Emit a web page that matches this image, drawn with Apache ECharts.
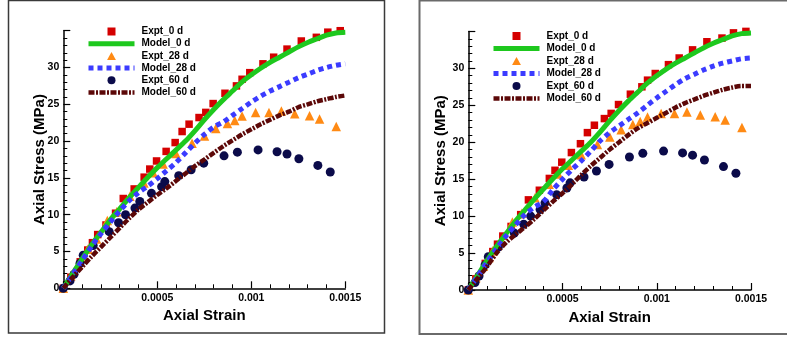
<!DOCTYPE html>
<html>
<head>
<meta charset="utf-8">
<script src="https://cdn.jsdelivr.net/npm/echarts@6/dist/echarts.min.js"></script>
<style>
html,body{margin:0;padding:0;background:#fff;}
#chart{width:787px;height:338px;}
</style>
</head>
<body>
<div id="chart"></div>
<script>
// ---- Data ----
var seriesNames = ['Expt_0 d', 'Model_0 d', 'Expt_28 d', 'Model_28 d', 'Expt_60 d', 'Model_60 d'];
var xTickLabels = ['', '0.0005', '0.001', '0.0015'];
var yTickLabels = ['0', '5', '10', '15', '20', '25', '30', ''];

var expt0Strain = [0, 0.00004, 0.00009, 0.00013, 0.000155, 0.000183, 0.000227, 0.000278, 0.000319, 0.000377, 0.00043, 0.00046, 0.000496, 0.000547, 0.000595, 0.000632, 0.000669, 0.000722, 0.000758, 0.000797, 0.00086, 0.000921, 0.000951, 0.000992, 0.001062, 0.001119, 0.00119, 0.001266, 0.001346, 0.001407, 0.001473];
var expt0Stress = [0, 1.5, 3.6, 5.2, 6.2, 7.3, 8.6, 10.2, 12.2, 13.5, 15.1, 16.2, 17.3, 18.6, 19.8, 21.3, 22.3, 23.2, 23.9, 25.1, 26.5, 27.5, 28.4, 29.3, 30.5, 31.4, 32.5, 33.6, 34.1, 34.8, 35.0];

var expt28Strain = [0, 0.00004, 0.00008, 0.00011, 0.00013, 0.000177, 0.000234, 0.000284, 0.000354, 0.000429, 0.000478, 0.000531, 0.000599, 0.000685, 0.000751, 0.000811, 0.000873, 0.000912, 0.000951, 0.001023, 0.001094, 0.00116, 0.001231, 0.00131, 0.001363, 0.001452];
var expt28Stress = [0, 1.7, 3.2, 4.4, 5.3, 6.7, 9.2, 10.4, 12.5, 14.3, 15.7, 16.9, 18.3, 19.7, 20.7, 21.7, 22.4, 22.8, 23.4, 23.9, 23.9, 24.1, 23.7, 23.45, 23.0, 22.0];

var expt60Strain = [0, 0.0000356, 0.000057, 0.000089, 0.000106, 0.000159, 0.000244, 0.000294, 0.000331, 0.000381, 0.000407, 0.000469, 0.000523, 0.00054, 0.000614, 0.00068, 0.000747, 0.000855, 0.000926, 0.001036, 0.001137, 0.00119, 0.001253, 0.001354, 0.00142];
var expt60Stress = [0, 1.0, 1.9, 3.4, 4.5, 5.8, 7.7, 8.9, 10.0, 10.9, 11.8, 12.9, 13.8, 14.5, 15.3, 16.1, 17.0, 18.0, 18.5, 18.8, 18.55, 18.25, 17.6, 16.7, 15.8];

var modelStrain = [0, 0.00005, 0.0001, 0.00015, 0.0002, 0.00025, 0.0003, 0.00035, 0.0004, 0.00045, 0.0005, 0.00055, 0.0006, 0.00065, 0.0007, 0.00075, 0.0008, 0.00085, 0.0009, 0.00095, 0.001, 0.00105, 0.0011, 0.00115, 0.0012, 0.00125, 0.0013, 0.00135, 0.0014, 0.00145, 0.0015];
var model0Stress = [0, 2.0, 4.0, 5.9, 7.6, 9.3, 10.8, 12.3, 13.7, 15.1, 16.4, 17.6, 18.8, 20.0, 21.4, 22.9, 24.3, 25.6, 26.8, 28.0, 29.0, 29.9, 30.7, 31.4, 32.1, 32.8, 33.4, 33.9, 34.4, 34.7, 34.8];
var model28StressLeft = [0, 1.9, 3.8, 5.7, 7.4, 9.0, 10.5, 11.9, 13.0, 13.9, 14.9, 16.0, 17.1, 18.4, 19.7, 20.9, 21.9, 22.6, 23.5, 24.4, 25.3, 26.1, 26.8, 27.4, 28.0, 28.6, 29.1, 29.6, 30.0, 30.3, 30.5];
var model28StressRight = [0, 1.9, 3.8, 5.6, 7.3, 8.8, 10.2, 11.2, 12.0, 13.6, 15.0, 16.3, 17.5, 18.8, 20.2, 21.3, 22.2, 23.1, 24.0, 25.0, 26.0, 26.9, 27.8, 28.6, 29.2, 29.8, 30.3, 30.7, 31.0, 31.3, 31.4];
var model60StressLeft = [0, 1.5, 2.9, 4.3, 5.6, 6.9, 8.2, 9.5, 10.7, 11.7, 12.7, 13.6, 14.6, 15.6, 16.6, 17.5, 18.4, 19.3, 20.1, 20.9, 21.6, 22.3, 22.9, 23.5, 24.0, 24.6, 25.0, 25.4, 25.7, 26.0, 26.2];
var model60StressRight = [0, 1.6, 3.2, 5.0, 6.4, 7.5, 8.5, 9.6, 10.8, 12.0, 13.1, 14.3, 15.6, 16.8, 17.9, 19.0, 20.0, 21.0, 21.9, 22.6, 23.3, 24.0, 24.7, 25.3, 25.8, 26.3, 26.7, 27.1, 27.4, 27.6, 27.6];

function pairs(xs, ys) { return xs.map(function (x, i) { return [x, ys[i]]; }); }

var FONT = 'Liberation Sans, Arial, sans-serif';
var colors = {
  red: '#d40000', green: '#1ec81e', orange: '#ff8a14',
  blue: '#3b3bff', navy: '#0b0b4a', brown: '#5c0808'
};
var legendIcons = ['path://M0,0L10,0L10,10L0,10Z', null, 'path://M5,0L10,9L0,9Z', null, 'circle', null];

function panelSeries(idx, m28, m60) {
  return [
    { name: seriesNames[0], type: 'scatter', xAxisIndex: idx, yAxisIndex: idx, clip: false,
      symbol: 'rect', symbolSize: 7.5, itemStyle: { color: colors.red, opacity: 1 }, data: pairs(expt0Strain, expt0Stress) },
    { name: seriesNames[1], type: 'line', xAxisIndex: idx, yAxisIndex: idx, symbol: 'none', smooth: 0.3,
      lineStyle: { color: colors.green, width: 5 }, itemStyle: { color: colors.green }, data: pairs(modelStrain, model0Stress) },
    { name: seriesNames[2], type: 'scatter', xAxisIndex: idx, yAxisIndex: idx, clip: false,
      symbol: 'triangle', symbolSize: 9.5, itemStyle: { color: colors.orange, opacity: 1 }, data: pairs(expt28Strain, expt28Stress) },
    { name: seriesNames[3], type: 'line', xAxisIndex: idx, yAxisIndex: idx, symbol: 'none', smooth: 0.3,
      lineStyle: { color: colors.blue, width: 5, type: [5, 4] }, itemStyle: { color: colors.blue }, data: pairs(modelStrain, m28) },
    { name: seriesNames[4], type: 'scatter', xAxisIndex: idx, yAxisIndex: idx, clip: false,
      symbol: 'circle', symbolSize: 9, itemStyle: { color: colors.navy, opacity: 1 }, data: pairs(expt60Strain, expt60Stress) },
    { name: seriesNames[5], type: 'line', xAxisIndex: idx, yAxisIndex: idx, symbol: 'none', smooth: 0.3,
      lineStyle: { color: colors.brown, width: 4.5, type: [6, 1.5, 2, 1.5] }, itemStyle: { color: colors.brown }, data: pairs(modelStrain, m60) }
  ];
}

function xAx(gi) {
  return {
    type: 'value', gridIndex: gi, min: 0, max: 0.0015, interval: 0.0005,
    name: 'Axial Strain', nameLocation: 'middle', nameGap: 18,
    nameTextStyle: { fontFamily: FONT, fontWeight: 'bold', fontSize: 15, color: '#000' },
    axisLine: { lineStyle: { color: '#000', width: 1.5 } },
    axisTick: { inside: true, length: 7, lineStyle: { color: '#000', width: 1.2 } },
    minorTick: { show: true, splitNumber: 5, length: 4, lineStyle: { color: '#000', width: 1 } },
    splitLine: { show: false },
    axisLabel: { margin: 4, fontFamily: FONT, fontWeight: 'bold', fontSize: 10.5, color: '#000',
      formatter: function (v) { return xTickLabels[Math.round(v / 0.0005)] || ''; } }
  };
}
function yAx(gi, gap) {
  return {
    type: 'value', gridIndex: gi, min: 0, max: 35, interval: 5,
    name: 'Axial Stress (MPa)', nameLocation: 'middle', nameGap: gap, nameMoveOverlap: false,
    nameTextStyle: { fontFamily: FONT, fontWeight: 'bold', fontSize: 15, color: '#000' },
    axisLine: { show: true, lineStyle: { color: '#000', width: 1.5 } },
    axisTick: { show: true, inside: true, length: 7, lineStyle: { color: '#000', width: 1.2 } },
    minorTick: { show: true, splitNumber: 5, length: 4, lineStyle: { color: '#000', width: 1 } },
    splitLine: { show: false },
    axisLabel: { margin: 4, fontFamily: FONT, fontWeight: 'bold', fontSize: 10.5, color: '#000',
      formatter: function (v) { return yTickLabels[Math.round(v / 5)]; } }
  };
}
function legend(left, top, gap) {
  var items = seriesNames.map(function (n, i) {
    return i % 2 === 1 ? { name: n, itemStyle: { opacity: 0 } } : { name: n, icon: legendIcons[i] };
  });
  return {
    orient: 'vertical', left: left, top: top, itemWidth: 46, itemHeight: 8, itemGap: gap,
    data: items, selectedMode: false, symbolKeepAspect: true,
    lineStyle: { width: 'inherit' },
    textStyle: { fontFamily: FONT, fontWeight: 'bold', fontSize: 10, color: '#000', padding: [0, 0, 0, 2] },
    padding: 0
  };
}

var chart = echarts.init(document.getElementById('chart'), null, { renderer: 'canvas' });
chart.setOption({
  backgroundColor: '#fff',
  animation: false,
  graphic: [
    { type: 'rect', shape: { x: 8.5, y: 0.5, width: 376, height: 332.5 }, style: { fill: 'none', stroke: '#3a3a3a', lineWidth: 1.5 }, silent: true },
    { type: 'rect', shape: { x: 419.5, y: 0.5, width: 420, height: 333.5 }, style: { fill: 'none', stroke: '#6a6a6a', lineWidth: 2 }, silent: true }
  ],
  grid: [
    { left: 63.3, top: 30.7, width: 282, height: 257.6 },
    { left: 468.3, top: 31.4, width: 282.7, height: 258.6 }
  ],
  xAxis: [xAx(0), xAx(1)],
  yAxis: [yAx(0, 16), yAx(1, 20)],
  legend: [legend(86, 26.5, 2.2), legend(491, 31, 2.5)],
  series: panelSeries(0, model28StressLeft, model60StressLeft).concat(panelSeries(1, model28StressRight, model60StressRight))
});
</script>
</body>
</html>
